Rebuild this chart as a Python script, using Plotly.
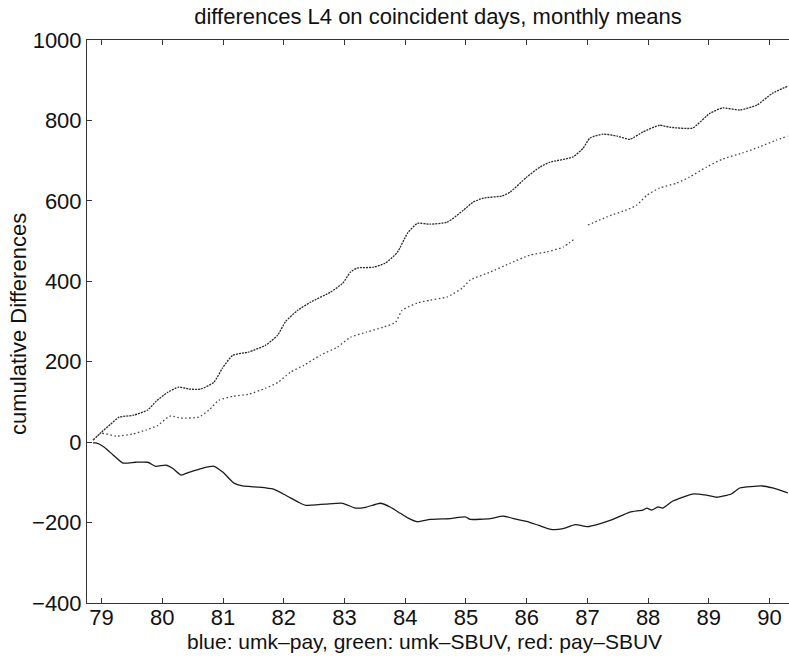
import plotly.graph_objects as go

# Cumulative differences of layer-4 ozone on coincident days (monthly means)
years_umk_pay = [78.86, 79.0, 79.15, 79.29, 79.53, 79.76, 79.9, 80.09, 80.27, 80.44, 80.63, 80.85,
                 80.99, 81.16, 81.42, 81.70, 81.90, 82.03, 82.23, 82.44, 82.77, 82.97, 83.10, 83.21,
                 83.48, 83.67, 83.87, 84.04, 84.20, 84.41, 84.69, 84.96, 85.12, 85.29, 85.59, 85.73,
                 86.0, 86.22, 86.38, 86.76, 86.93, 87.04, 87.26, 87.49, 87.70, 87.91, 88.19, 88.36,
                 88.73, 89.02, 89.23, 89.51, 89.79, 90.05, 90.30]
umk_pay = [5, 25, 45, 62, 67, 80, 102, 124, 137, 132, 132, 149,
           184, 216, 224, 241, 266, 300, 328, 348, 373, 395, 423, 433,
           435, 445, 472, 520, 544, 542, 547, 577, 597, 607, 612, 622,
           659, 684, 696, 709, 731, 756, 766, 761, 753, 771, 788, 783,
           781, 818, 831, 826, 838, 868, 885]

years_umk_sbuv = [78.86, 78.99, 79.24, 79.51, 79.73, 79.93, 80.09, 80.14, 80.31, 80.60, 80.77, 80.93,
                  81.16, 81.42, 81.70, 81.91, 82.11, 82.33, 82.60, 82.88, 83.10, 83.37, 83.64, 83.84,
                  83.95, 84.20, 84.41, 84.69, 84.94, 85.07, 85.40, 85.73, 86.05, 86.33, 86.60, 86.80,
                  86.90, 87.01, 87.32, 87.67, 87.81, 87.98, 88.19, 88.47, 88.68, 88.96, 89.23, 89.55,
                  89.83, 90.11, 90.30]
umk_sbuv = [5, 22, 15, 20, 30, 42, 62, 65, 60, 62, 80, 104,
            114, 119, 134, 149, 174, 191, 216, 236, 261, 274, 286, 298,
            328, 346, 353, 361, 383, 403, 423, 445, 465, 473, 485, 507,
            None, 540, 560, 579, 589, 614, 632, 644, 659, 684, 704, 719,
            734, 751, 761]

years_pay_sbuv = [78.86, 78.91, 79.04, 79.19, 79.35, 79.56, 79.76, 79.89, 80.06, 80.17, 80.31, 80.44,
                  80.66, 80.85, 81.0, 81.18, 81.32, 81.59, 81.83, 82.03, 82.24, 82.36, 82.69, 82.97,
                  83.18, 83.35, 83.59, 83.76, 83.92, 84.05, 84.2, 84.41, 84.74, 84.99, 85.07, 85.40,
                  85.61, 85.84, 86.0, 86.2, 86.4, 86.6, 86.8, 87.0, 87.2, 87.42, 87.70, 87.91,
                  87.98, 88.06, 88.16, 88.24, 88.40, 88.73, 88.96, 89.13, 89.37, 89.51, 89.88, 90.05,
                  90.30]
pay_sbuv = [-2, -2, -12, -32, -52, -50, -50, -60, -57, -65, -82, -75,
            -65, -60, -75, -102, -109, -112, -117, -132, -149, -157, -154, -152,
            -164, -162, -152, -162, -177, -189, -198, -192, -190, -186, -192, -190,
            -184, -192, -197, -207, -217, -215, -205, -210, -203, -192, -174, -169,
            -164, -169, -161, -164, -147, -129, -132, -137, -129, -114, -109, -114,
            -126]

x_ticks = [79, 80, 81, 82, 83, 84, 85, 86, 87, 88, 89, 90]
y_ticks = [-400, -200, 0, 200, 400, 600, 800, 1000]

FONT = "Liberation Sans, Arial, Helvetica, sans-serif"
FS = 22
W, H = 789, 665
L, R, T, B = 87, 0, 40, 62

fig = go.Figure()
fig.add_trace(go.Scatter(x=years_umk_pay, y=umk_pay, mode="lines", name="umk-pay",
                         line=dict(color="#2a2a2a", width=1.3, dash="2px,1px", shape="spline", smoothing=0.5)))
fig.add_trace(go.Scatter(x=years_umk_sbuv, y=umk_sbuv, mode="lines", name="umk-SBUV",
                         line=dict(color="#444444", width=1.3, dash="1.5px,2.5px", shape="spline", smoothing=0.5)))
fig.add_trace(go.Scatter(x=years_pay_sbuv, y=pay_sbuv, mode="lines", name="pay-SBUV",
                         line=dict(color="#1a1a1a", width=1.3, shape="spline", smoothing=0.5)))

fig.update_layout(
    width=W, height=H,
    margin=dict(l=L, r=R, t=T, b=B),
    paper_bgcolor="white", plot_bgcolor="white",
    showlegend=False,
    font=dict(family=FONT, size=FS, color="#111111"),
    title=dict(text="differences L4 on coincident days, monthly means",
               x=0.5, xref="paper", y=1 - 16 / H, yref="container",
               xanchor="center", yanchor="middle",
               font=dict(family=FONT, size=FS, color="#111111")),
    xaxis=dict(range=[78.76, 90.32], tickvals=x_ticks, ticktext=[str(v) for v in x_ticks],
               showgrid=False, zeroline=False, showline=True, linecolor="#333333", linewidth=1,
               mirror="ticks", ticks="inside", ticklen=5, tickcolor="#333333",
               ticklabelstandoff=-5, tickfont=dict(size=FS)),
    yaxis=dict(range=[-400, 1000], tickvals=y_ticks,
               showgrid=False, zeroline=False, showline=True, linecolor="#333333", linewidth=1,
               mirror=False, ticks="inside", ticklen=5, tickcolor="#333333",
               tickfont=dict(size=FS)),
)

fig.add_annotation(text="blue: umk\u2013pay, green: umk\u2013SBUV, red: pay\u2013SBUV",
                   xref="paper", yref="paper",
                   x=(424 - L) / (W - L - R), y=-(641 - (H - B)) / (H - T - B),
                   xanchor="center", yanchor="middle", showarrow=False,
                   font=dict(family=FONT, size=21, color="#111111"))
fig.add_annotation(text="cumulative Differences", textangle=-90,
                   xref="paper", yref="paper",
                   x=-(L - 18) / (W - L - R), y=(H - B - 324) / (H - T - B),
                   xanchor="center", yanchor="middle", showarrow=False,
                   font=dict(family=FONT, size=FS, color="#111111"))

fig.write_html("out.html")
